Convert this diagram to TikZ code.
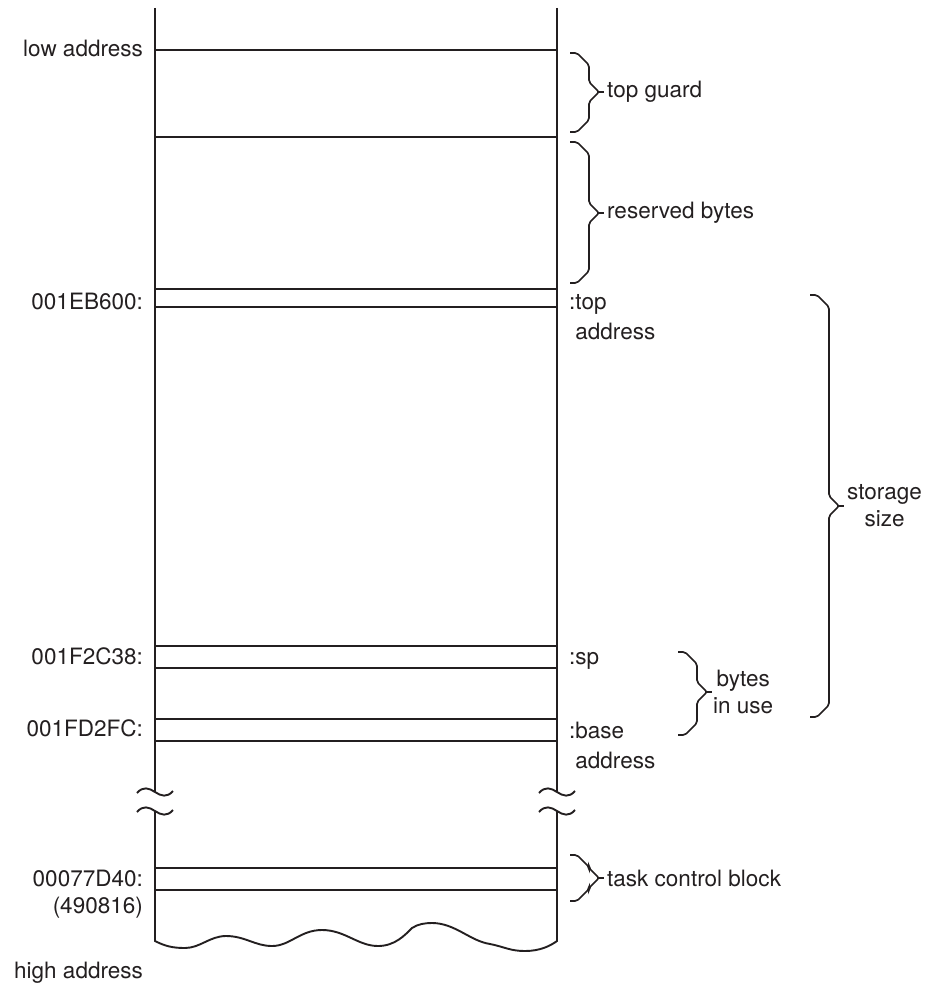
\documentclass[tikz,border=0pt]{standalone}
\usepackage{fontspec}
\setmainfont{TeX Gyre Heros}
\usetikzlibrary{positioning}
\definecolor{ink}{RGB}{35,31,32}
\tikzset{
  memline/.style={draw=ink, line width=1.9pt},
  bracket/.style={draw=ink, line width=1.7pt, rounded corners=2pt},
  addr/.style={anchor=base east, inner sep=0pt, text=ink},
  ptr/.style={anchor=base west, inner sep=0pt, text=ink, align=left},
  note/.style={anchor=west, inner sep=3pt, text=ink, align=center},
  breakmark/.pic={\draw[memline] (-18,1) .. controls (-12,-6) and (-6,-4) .. (0,0) .. controls (6,4) and (12,6) .. (18,-1);}
}
% brace: x, top, tip, bottom, name of tip coordinate
\newcommand{\memBrace}[5]{%
  \draw[bracket] (#1,#2) -- (#1+7,#2) -- (#1+19,#2+12) -- (#1+19,#3-10) -- (#1+29,#3)
    -- (#1+19,#3+10) -- (#1+19,#4-12) -- (#1+7,#4) -- (#1,#4);
  \draw[bracket] (#1+29,#3) -- (#1+34,#3) coordinate (#5);
}
\begin{document}
\begin{tikzpicture}[x=1pt, y=-1pt, font=\fontsize{22.5}{27}\selectfont]
  \useasboundingbox (0,0) rectangle (934,984);

  % Memory column
  \draw[memline] (155,8) -- (155,792);
  \draw[memline] (557,8) -- (557,792);
  \pic at (155,792) {breakmark};
  \pic at (557,792) {breakmark};
  \pic at (155,811) {breakmark};
  \pic at (557,811) {breakmark};
  \draw[memline] (155,811) -- (155,941)
    .. controls (165,946) and (172,948) .. (185,948)
    .. controls (200,948) and (210,936) .. (226,936)
    .. controls (245,936) and (255,946) .. (272,946)
    .. controls (290,946) and (300,930) .. (322,930)
    .. controls (345,930) and (358,946) .. (378,946)
    .. controls (395,946) and (405,935) .. (412,928)
    .. controls (418,924) and (425,923) .. (432,923)
    .. controls (455,923) and (470,941) .. (490,944)
    .. controls (505,947) and (510,951) .. (525,951)
    .. controls (540,951) and (550,946) .. (557,941) -- (557,811);
  \foreach \y in {50,137,289,307,646,668,719,741,868,890}
    \draw[memline] (155,\y) -- (557,\y);

  % Addresses on the left
  \node[addr] (low) at (143,57) {low address};
  \node[addr] (topaddr) at (143,309) {001EB600:};
  \node[addr] (spaddr) at (143,664) {001F2C38:};
  \node[addr] (baseaddr) at (143,736) {001FD2FC:};
  \node[addr, align=right] (tcbaddr) at (143,913) {00077D40:\\(490816)};
  \node[addr] (high) at (143,978) {high address};

  % Pointers on the right
  \node[ptr] (toplbl) at (569,339) {:top\\[3pt]\phantom{:}address};
  \node[ptr] (splbl) at (569,664) {:sp};
  \node[ptr] (baselbl) at (569,768) {:base\\[3pt]\phantom{:}address};

  % Braces
  \memBrace{570}{53}{92}{132}{tg}
  \memBrace{570}{142}{213}{283}{rb}
  \memBrace{810}{295}{506}{717}{ss}
  \memBrace{678}{652}{692}{735}{bu}
  \memBrace{570}{855}{878}{901}{tcb}
  \node[note] (guard) at (tg) {top guard};
  \node[note] (reserved) at (rb) {reserved bytes};
  \node[note] (storage) at (ss) {storage\\size};
  \node[note, inner sep=1pt] (inuse) at (bu) {bytes\\in use};
  \node[note] (tcblbl) at (tcb) {task control block};
\end{tikzpicture}
\end{document}
